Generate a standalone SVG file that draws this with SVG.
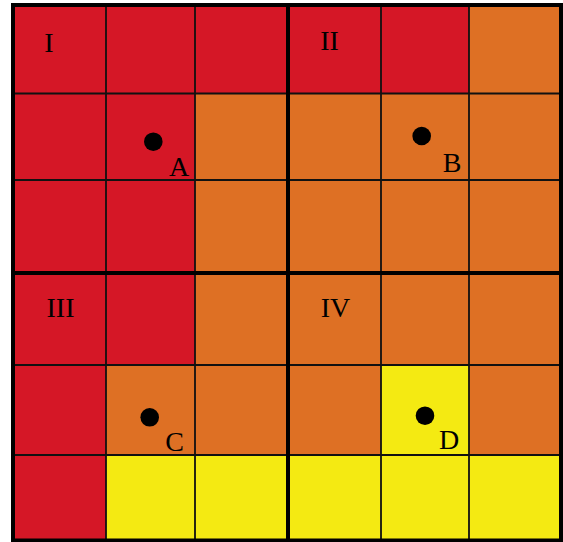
<svg xmlns="http://www.w3.org/2000/svg" width="563" height="542" viewBox="0 0 563 542">
<style>
.r{fill:#D51726}.o{fill:#DE7024}.y{fill:#F4EA12}
.thin{stroke:#111;stroke-width:1.8;fill:none}
.thick{stroke:#000;stroke-width:4;fill:none}
.lbl{font-family:"Liberation Serif","Times New Roman",serif;font-size:28px;fill:#000;text-anchor:middle}
.dot{fill:#000}
</style>
<rect width="563" height="542" fill="#fff"/>
<g id="cells">
<rect class="r" x="13" y="5" width="93" height="88.5"/>
<rect class="r" x="106" y="5" width="89" height="88.5"/>
<rect class="r" x="195" y="5" width="93" height="88.5"/>
<rect class="r" x="288" y="5" width="93" height="88.5"/>
<rect class="r" x="381" y="5" width="88" height="88.5"/>
<rect class="o" x="469" y="5" width="92" height="88.5"/>
<rect class="r" x="13" y="93.5" width="93" height="86.5"/>
<rect class="r" x="106" y="93.5" width="89" height="86.5"/>
<rect class="o" x="195" y="93.5" width="366" height="86.5"/>
<rect class="r" x="13" y="180" width="93" height="93"/>
<rect class="r" x="106" y="180" width="89" height="93"/>
<rect class="o" x="195" y="180" width="366" height="93"/>
<rect class="r" x="13" y="273" width="93" height="92"/>
<rect class="r" x="106" y="273" width="89" height="92"/>
<rect class="o" x="195" y="273" width="366" height="92"/>
<rect class="r" x="13" y="365" width="93" height="90"/>
<rect class="o" x="106" y="365" width="275" height="90"/>
<rect class="y" x="381" y="365" width="88" height="90"/>
<rect class="o" x="469" y="365" width="92" height="90"/>
<rect class="r" x="13" y="455" width="93" height="85.5"/>
<rect class="y" x="106" y="455" width="455" height="85.5"/>
</g>
<g id="connectors">
<path class="thin" d="M106 5V540.5M195 5V540.5M381 5V540.5M469 5V540.5M13 93.5H561M13 180H561M13 365H561M13 455H561"/>
<path class="thick" d="M288 5V540.5M13 273H561"/>
<rect class="thick" x="13" y="5" width="548" height="535.5"/>
</g>
<g id="quadrant-I"><text class="lbl" x="49" y="52">I</text></g>
<g id="quadrant-II"><text class="lbl" x="329.5" y="50">II</text></g>
<g id="quadrant-III"><text class="lbl" x="60.5" y="317">III</text></g>
<g id="quadrant-IV"><text class="lbl" x="335.5" y="317">IV</text></g>
<g id="point-A"><circle class="dot" cx="153.3" cy="141.7" r="9.3"/><text class="lbl" x="179" y="176">A</text></g>
<g id="point-B"><circle class="dot" cx="421.7" cy="136" r="9.3"/><text class="lbl" x="452" y="172">B</text></g>
<g id="point-C"><circle class="dot" cx="149.7" cy="417.3" r="9.3"/><text class="lbl" x="174.5" y="451">C</text></g>
<g id="point-D"><circle class="dot" cx="425" cy="415.7" r="9.3"/><text class="lbl" x="449" y="449">D</text></g>
</svg>
